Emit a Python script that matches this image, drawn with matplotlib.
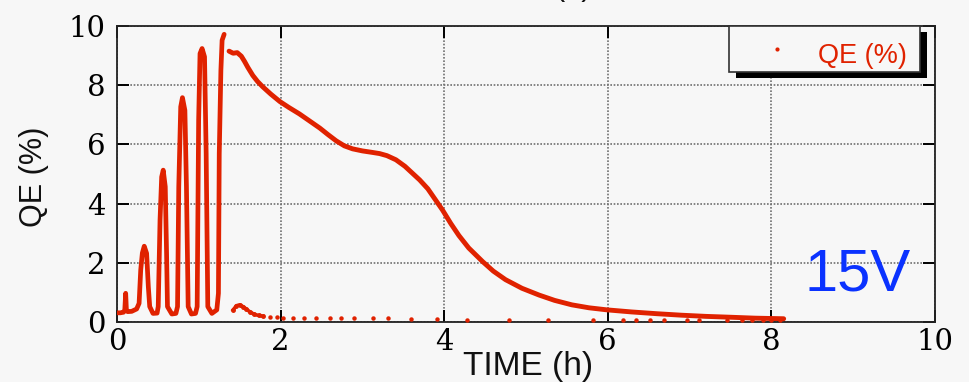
import numpy as np
import matplotlib
matplotlib.use('Agg')
import matplotlib.pyplot as plt
from matplotlib.patches import Rectangle

# QE trace during the pulsed part of the run (h, %)
t_pulse = [0.00, 0.04, 0.08, 0.095, 0.106, 0.115, 0.13, 0.18, 0.24, 0.27, 0.29, 0.31,
           0.333, 0.362, 0.383, 0.40, 0.44, 0.49, 0.504, 0.526, 0.546, 0.565, 0.59,
           0.606, 0.617, 0.67, 0.72, 0.74, 0.755, 0.779, 0.80, 0.83, 0.849, 0.87,
           0.91, 0.96, 0.98, 0.998, 1.015, 1.04, 1.07, 1.09, 1.11, 1.16, 1.22, 1.24,
           1.25, 1.27, 1.285, 1.31]
qe_pulse = [0.31, 0.31, 0.33, 0.40, 0.97, 0.40, 0.35, 0.36, 0.44, 0.63, 1.76, 2.33,
            2.56, 2.32, 1.19, 0.52, 0.29, 0.30, 0.52, 3.44, 4.90, 5.13, 4.57,
            2.32, 0.52, 0.27, 0.29, 0.52, 4.57, 7.27, 7.58, 7.15, 4.57, 0.52,
            0.27, 0.29, 0.52, 6.82, 9.07, 9.24, 8.96, 5.69, 0.52, 0.29, 0.41, 0.97,
            5.69, 8.50, 9.52, 9.72]

# continuous decay after the last pulse
t_decay = [1.37, 1.42, 1.47, 1.52, 1.56, 1.60, 1.66, 1.72, 1.78, 1.88, 1.99, 2.10,
           2.23, 2.35, 2.48, 2.58, 2.68, 2.78, 2.88, 3.00, 3.12, 3.21, 3.30, 3.41,
           3.52, 3.61, 3.70, 3.80, 3.90, 3.98, 4.08, 4.18, 4.30, 4.47, 4.60, 4.75,
           4.95, 5.16, 5.35, 5.56, 5.77, 5.99, 6.29, 6.60, 6.90, 7.20, 7.51, 7.80,
           8.15]
qe_decay = [9.15, 9.08, 9.10, 8.98, 8.80, 8.60, 8.33, 8.12, 7.95, 7.70, 7.45, 7.25,
            7.03, 6.80, 6.55, 6.33, 6.12, 5.95, 5.85, 5.78, 5.73, 5.69, 5.62, 5.48,
            5.26, 5.03, 4.80, 4.50, 4.10, 3.78, 3.33, 2.92, 2.50, 2.04, 1.72, 1.43,
            1.14, 0.91, 0.73, 0.58, 0.48, 0.41, 0.34, 0.28, 0.23, 0.19, 0.16, 0.13,
            0.11]

# small bump right after the pulses
t_bump = [1.42, 1.46, 1.50, 1.54, 1.58, 1.63, 1.68, 1.73, 1.78]
qe_bump = [0.41, 0.55, 0.58, 0.52, 0.44, 0.33, 0.26, 0.22, 0.20]

# sparse points near zero
t_low = [1.87, 1.95, 2.03, 2.15, 2.29, 2.43, 2.60, 2.74, 2.90, 3.13, 3.31, 3.59,
         3.91, 4.28, 4.79, 5.27, 5.82, 6.19, 6.35, 6.51, 6.69, 6.97, 7.11, 7.46,
         7.64, 7.76, 7.90, 8.00, 8.10]
qe_low = [0.17, 0.16, 0.15, 0.15, 0.14, 0.14, 0.13, 0.13, 0.13, 0.13, 0.12, 0.10,
          0.10, 0.07, 0.07, 0.07, 0.07, 0.07, 0.07, 0.07, 0.07, 0.07, 0.08, 0.07,
          0.06, 0.06, 0.07, 0.08, 0.08]

xticks = [0, 2, 4, 6, 8, 10]
yticks = [0, 2, 4, 6, 8, 10]

red = '#e02200'
bg = '#f7f7f7'

fig = plt.figure(figsize=(9.7, 3.82), dpi=100, facecolor=bg)
ax = fig.add_axes([117 / 970, 1 - 322 / 382, 818 / 970, 296 / 382])
ax.set_facecolor(bg)

ax.plot(t_pulse, qe_pulse, color=red, lw=3.4, solid_capstyle='round',
        solid_joinstyle='round', zorder=3)
ax.plot(t_decay, qe_decay, color=red, lw=3.5, solid_capstyle='round',
        solid_joinstyle='round', zorder=3)
ax.plot(t_bump, qe_bump, color=red, lw=2.6, marker='o', ms=2.5, zorder=3)
ax.plot(t_low, qe_low, ls='none', marker='o', ms=3.2, color=red, mec='none', zorder=3)

ax.set_xlim(0, 10)
ax.set_ylim(0, 10)
ax.set_xticks(xticks)
ax.set_yticks(yticks)
ax.grid(True, color='#707070', lw=1.2, ls=(0, (1, 1)), zorder=1)
ax.set_axisbelow(True)
ax.tick_params(direction='in', length=8.5, width=1.4, top=True, right=True,
               labelsize=21, color='black')
ax.tick_params(axis='x', pad=4.5)
ax.tick_params(axis='y', pad=8.5)
for lab in ax.get_xticklabels() + ax.get_yticklabels():
    lab.set_family('DejaVu Serif')
for sp in ax.spines.values():
    sp.set_linewidth(1.3)
    sp.set_color('#222222')

ax.text(0.5024, -0.179, 'TIME (h)', transform=ax.transAxes, ha='center',
        va='baseline', fontsize=24, family='Liberation Sans', color='#111111')
ax.text(-0.1009, 0.49, 'QE (%)', transform=ax.transAxes, ha='center', va='center',
        rotation=90, fontsize=22, family='Liberation Sans', color='#111111')

ax.text(0.9707, 0.108, '15V', transform=ax.transAxes, ha='right', va='baseline',
        fontsize=43, family='Liberation Sans', color='#0a32ff')

# legend box with hard black shadow
x0, x1, y0, y1 = 0.7485, 0.9817, 0.8447, 1.0
dx, dy = 0.0086, 0.0203
ax.add_patch(Rectangle((x0 + dx, y0 - dy), x1 - x0, y1 - y0, transform=ax.transAxes,
                       facecolor='black', edgecolor='black', lw=0, zorder=5,
                       clip_on=False))
ax.add_patch(Rectangle((x0, y0), x1 - x0, y1 - y0, transform=ax.transAxes,
                       facecolor=bg, edgecolor='#333333', lw=1.2, zorder=6,
                       clip_on=False))
ax.plot([0.8072], [0.9224], transform=ax.transAxes, marker='o', ms=3, color=red,
        mec='none', zorder=7, clip_on=False)
ax.text(0.857, 0.8744, 'QE (%)', transform=ax.transAxes, ha='left', va='baseline',
        fontsize=19.5, family='Liberation Sans', color=red, zorder=7)

# title, mostly outside the picture
fig.text(573 / 970, 1 + 5 / 382, '(a)', ha='center', va='baseline', fontsize=22,
         family='Liberation Sans', color='#111111')

fig.savefig('out.png', dpi=100, facecolor=bg)
